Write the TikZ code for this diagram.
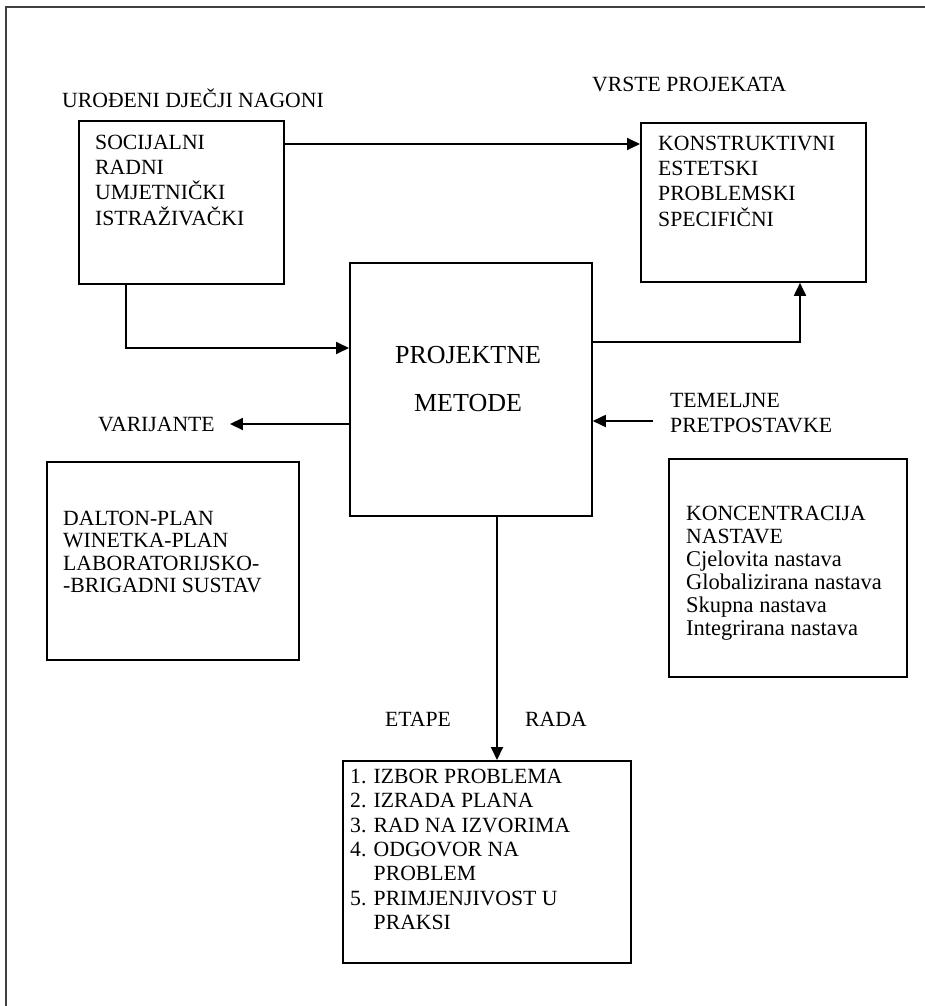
\documentclass[tikz,border=0pt]{standalone}
\usepackage{fontspec}
\setmainfont{Liberation Serif}
\usetikzlibrary{arrows.meta,calc}
\begin{document}
\begin{tikzpicture}[x=1pt,y=-1pt,
  box/.style={draw=black,line width=1.8pt,anchor=north west,inner sep=0pt},
  txt/.style={anchor=north west,inner sep=0pt,align=left,font=\fontsize{21.7}{25}\selectfont},
  lbl/.style={anchor=base west,inner sep=0pt,font=\fontsize{21.7}{25}\selectfont},
  arr/.style={line width=1.8pt,-{Triangle[length=13pt,width=12pt]}},
  frame/.style={line width=2pt,draw=black!75}]
\useasboundingbox (0,0) rectangle (925,1006);
% outer frame (top and left edges)
\coordinate (ftr) at (925,7);
\coordinate (ftl) at (6,7);
\coordinate (fbl) at (6,1006);
\draw[frame] (ftr) -- (ftl) -- (fbl);
% headings
\node[lbl] (nagoni) at (62,108) {UROĐENI DJEČJI NAGONI};
\node[lbl] (vrste) at (592,92) {VRSTE PROJEKATA};
% boxes
\node[box,minimum width=205pt,minimum height=163pt] (A) at (78,120) {};
\node[txt,font=\fontsize{21.7}{25.2}\selectfont] (At) at (95,135) {SOCIJALNI\\RADNI\\UMJETNIČKI\\ISTRAŽIVAČKI};
\node[box,minimum width=225pt,minimum height=159pt] (B) at (640,122) {};
\node[txt,font=\fontsize{21.7}{25.2}\selectfont] (Bt) at (658,136) {KONSTRUKTIVNI\\ESTETSKI\\PROBLEMSKI\\SPECIFIČNI};
\node[box,minimum width=242pt,minimum height=253pt] (C) at (349,262) {};
\node[anchor=north,inner sep=0pt,align=center,font=\fontsize{26}{48}\selectfont] (Ct) at (468,346) {PROJEKTNE\\METODE};
\node[box,minimum width=252pt,minimum height=198pt] (D) at (46,461) {};
\node[txt,font=\fontsize{21.7}{22.3}\selectfont] (Dt) at (63,511) {DALTON-PLAN\\WINETKA-PLAN\\LABORATORIJSKO-\\-BRIGADNI SUSTAV};
\node[box,minimum width=238pt,minimum height=218pt] (E) at (668,458) {};
\node[txt,font=\fontsize{21.7}{23}\selectfont] (Et) at (686,506) {KONCENTRACIJA\\NASTAVE\\{\fontsize{22.5}{23}\selectfont Cjelovita nastava}\\{\fontsize{22.5}{23}\selectfont Globalizirana nastava}\\{\fontsize{22.5}{23}\selectfont Skupna nastava}\\{\fontsize{22.5}{23}\selectfont Integrirana nastava}};
\node[box,minimum width=288pt,minimum height=202pt] (F) at (342,760) {};
\node[txt,font=\fontsize{21.7}{24.3}\selectfont] (Ft) at (350,769) {1. IZBOR PROBLEMA\\2. IZRADA PLANA\\3. RAD NA IZVORIMA\\4. ODGOVOR NA\\\phantom{4. }PROBLEM\\5. PRIMJENJIVOST U\\\phantom{5. }PRAKSI};
% side labels
\node[lbl] (var) at (98,431) {VARIJANTE};
\node[txt] (tem) at (670,393) {TEMELJNE\\PRETPOSTAVKE};
\node[lbl] (etape) at (385,726) {ETAPE};
\node[lbl] (rada) at (525,726) {RADA};
% connectors
\coordinate (ab) at ($(A.north east)+(0,24)$);
\draw[arr] (ab) -- (ab -| B.west);
\coordinate (as) at ($(A.south west)+(48,0)$);
\draw[arr] (as) |- ($(C.north west)+(0,86)$);
\coordinate (cb) at ($(B.south west)+(160,0)$);
\draw[arr] ($(C.north east)+(0,80)$) -| (cb);
\coordinate (cv) at ($(C.north west)+(0,162)$);
\draw[arr] (cv) -- ($(cv -| var.east)+(15,0)$);
\coordinate (ct) at ($(C.north east)+(0,159)$);
\draw[arr] ($(ct -| tem.west)+(-17,0)$) -- (ct);
\coordinate (cs) at ($(C.south west)+(148,0)$);
\draw[arr] (cs) -- (cs |- F.north);
\end{tikzpicture}
\end{document}
